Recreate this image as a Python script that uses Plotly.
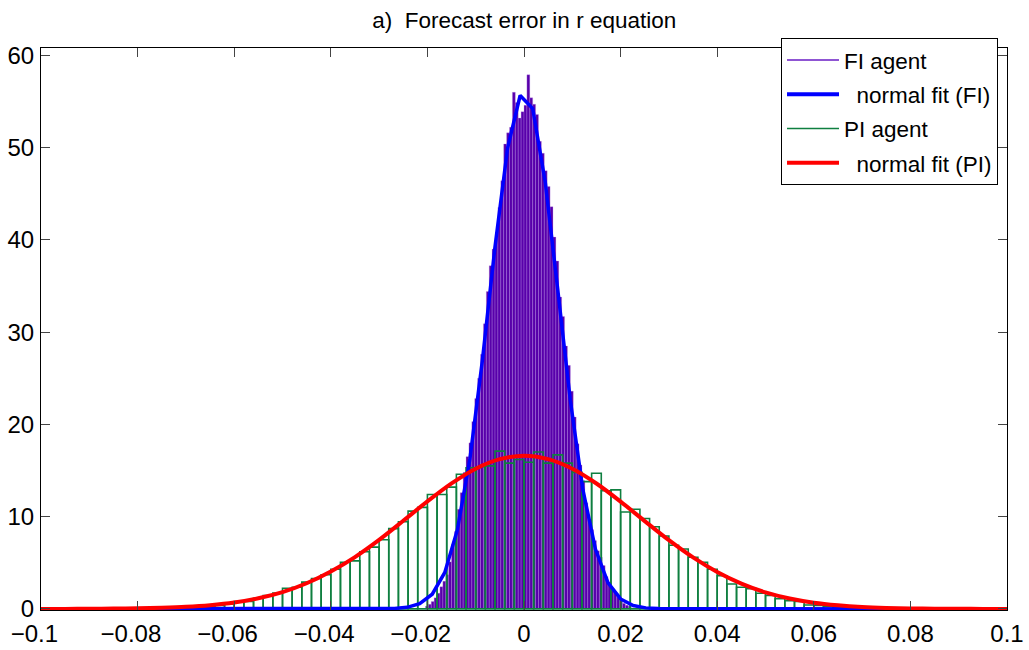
import numpy as np
import plotly.graph_objects as go

# ---------------- data ----------------
# FI agent histogram: bin width 0.0006, first bin's left edge at -0.0204
fi_bin_width = 0.0006
fi_first_left = -0.0204
fi_counts = [0.3, 0.5, 0.8, 1.2, 1.7, 2.4, 3.0, 3.7, 5.1, 7.0,
             8.4, 10.8, 12.6, 14.8, 16.5, 18.0, 20.3, 22.8, 25.0, 27.6,
             30.9, 34.4, 37.2, 39.0, 40.2, 43.5, 46.4, 50.4, 51.6, 52.2,
             56.0, 54.9, 53.2, 53.9, 54.6, 57.9, 55.4, 54.7, 53.6, 50.7,
             49.4, 47.5, 45.8, 43.6, 40.3, 37.7, 33.8, 31.7, 28.5, 26.4,
             23.6, 20.8, 17.9, 15.6, 13.9, 11.5, 9.7, 8.6, 7.4, 6.3,
             5.6, 4.7, 3.5, 2.9, 2.2, 1.8, 1.3, 0.9, 0.6, 0.4,
             0.3, 0.1]

# PI agent histogram: bin width 0.002, first bin's left edge at -0.08
pi_bin_width = 0.002
pi_first_left = -0.080
pi_counts = [0.02, 0.03, 0.04, 0.06, 0.08, 0.12, 0.18, 0.3, 0.36, 0.54,
             0.8, 0.8, 1.15, 1.45, 1.73, 2.24, 2.35, 2.9, 3.3, 3.7,
             4.3, 5.05, 5.2, 6.2, 6.7, 7.5, 8.7, 9.45, 10.6, 11.0,
             12.4, 12.4, 13.2, 14.6, 15.3, 15.4, 15.5, 17.1, 15.8, 16.2,
             15.9, 17.0, 15.8, 16.7, 15.8, 14.8, 13.8, 14.7, 12.8, 12.9,
             10.5, 10.8, 9.8, 8.9, 7.9, 6.9, 6.5, 5.6, 5.05, 4.3,
             3.6, 2.7, 2.35, 2.2, 1.7, 1.45, 1.1, 0.9, 0.8, 0.43,
             0.36, 0.3, 0.2, 0.15, 0.1, 0.07, 0.05, 0.03, 0.02, 0.01]

# normal fit (FI) curve, as drawn (piecewise line)
fi_fit_x = [-0.1, -0.0294, -0.0268, -0.0242, -0.0216, -0.019, -0.0164, -0.0138,
            -0.0112, -0.0086, -0.006, -0.0034, -0.0008, 0.0018, 0.0044, 0.007,
            0.0096, 0.0122, 0.0148, 0.0174, 0.02, 0.0226, 0.0252, 0.0278,
            0.0304, 0.1]
fi_fit_y = [0, 0.01, 0.05, 0.17, 0.56, 1.59, 3.95, 8.56,
            16.25, 27.0, 39.26, 49.96, 55.65, 54.24, 46.26, 34.54,
            22.56, 12.9, 6.46, 2.83, 1.08, 0.36, 0.11, 0.03,
            0.01, 0]

# normal fit (PI) curve
pi_fit_x = [-0.1, -0.095, -0.09, -0.085, -0.08, -0.075, -0.07, -0.065, -0.06,
            -0.055, -0.05, -0.045, -0.04, -0.035, -0.03, -0.025, -0.02,
            -0.015, -0.01, -0.005, 0.0, 0.005, 0.01, 0.015, 0.02, 0.025,
            0.03, 0.035, 0.04, 0.045, 0.05, 0.055, 0.06, 0.065, 0.07,
            0.075, 0.08, 0.085, 0.09, 0.095, 0.1]
pi_fit_y = [0.0, 0.0, 0.01, 0.03, 0.06, 0.12, 0.22, 0.4, 0.69,
            1.15, 1.82, 2.78, 4.05, 5.62, 7.48, 9.55, 11.65,
            13.6, 15.2, 16.23, 16.6, 16.23, 15.19, 13.59, 11.63, 9.52,
            7.45, 5.58, 4.0, 2.74, 1.79, 1.12, 0.67, 0.39, 0.21,
            0.11, 0.055, 0.025, 0.01, 0.0, 0.0]

x_ticks = [-0.1, -0.08, -0.06, -0.04, -0.02, 0, 0.02, 0.04, 0.06, 0.08, 0.1]
x_tick_labels = ["\u22120.1", "\u22120.08", "\u22120.06", "\u22120.04", "\u22120.02",
                 "0", "0.02", "0.04", "0.06", "0.08", "0.1"]
y_ticks = [0, 10, 20, 30, 40, 50, 60]

legend_names = ["FI agent", "\u00a0\u00a0normal fit (FI)", "PI agent", "\u00a0\u00a0normal fit (PI)"]

# ---------------- styling ----------------
PURPLE_FILL = "#5800aa"
PURPLE_LINE = "#6a1cc4"
GREEN = "#0f7f40"
BLUE = "#0000ff"
RED = "#ff0000"
FONT = "Liberation Sans, Arial, sans-serif"

fi_centers = fi_first_left + fi_bin_width * (np.arange(len(fi_counts)) + 0.5)
pi_centers = pi_first_left + pi_bin_width * (np.arange(len(pi_counts)) + 0.5)

# MATLAB centres the digits, letting the minus sign hang left: pad negatives
x_tick_text = [t + "\u00a0\u00a0" if t.startswith("\u2212") else t for t in x_tick_labels]

fig = go.Figure()

# legend-only entries (MATLAB shows line samples)
leg_styles = [(PURPLE_LINE, 1.5), (BLUE, 4), (GREEN, 1.5), (RED, 4)]
for i, (name, (col, w)) in enumerate(zip(legend_names, leg_styles)):
    fig.add_trace(go.Scatter(x=[None], y=[None], mode="lines", name=name,
                             line=dict(color=col, width=w),
                             legendgroup=f"g{i}", showlegend=True))

fig.add_trace(go.Bar(x=fi_centers, y=fi_counts, width=fi_bin_width,
                     marker=dict(color=PURPLE_FILL,
                                 line=dict(color="rgba(190,150,235,0.85)", width=0.35)),
                     showlegend=False, legendgroup="g0"))
fig.add_trace(go.Bar(x=pi_centers, y=pi_counts, width=pi_bin_width,
                     marker=dict(color="rgba(0,0,0,0)",
                                 line=dict(color=GREEN, width=1.6)),
                     showlegend=False, legendgroup="g2"))
fig.add_trace(go.Scatter(x=fi_fit_x, y=fi_fit_y, mode="lines",
                         line=dict(color=BLUE, width=3.5),
                         showlegend=False, legendgroup="g1"))
fig.add_trace(go.Scatter(x=pi_fit_x, y=pi_fit_y, mode="lines",
                         line=dict(color=RED, width=4, shape="spline", smoothing=0.8),
                         showlegend=False, legendgroup="g3"))

axis_common = dict(showline=True, linecolor="black", linewidth=1, mirror="ticks",
                   ticks="inside", ticklen=9, tickcolor="#444", tickwidth=1,
                   showgrid=False, zeroline=False, automargin=False,
                   tickfont=dict(family=FONT, size=24, color="black"))

fig.update_layout(
    width=1029, height=650,
    margin=dict(l=41, r=22, t=48, b=40, autoexpand=False),
    paper_bgcolor="white", plot_bgcolor="white",
    barmode="overlay",
    title=dict(text="a)\u00a0\u00a0Forecast error in r equation",
               x=0.5095, xanchor="center", y=1 - 20 / 650, yanchor="middle",
               font=dict(family=FONT, size=22.5, color="black")),
    xaxis=dict(range=[-0.1, 0.1], tickvals=x_ticks, ticktext=x_tick_text,
               ticklabelstandoff=2, **axis_common),
    yaxis=dict(range=[-0.12, 60.8], tickvals=y_ticks, ticklabelstandoff=1,
               **axis_common),
    legend=dict(x=0.9907, xanchor="right", y=1.0178, yanchor="top",
                bgcolor="white", bordercolor="black", borderwidth=1,
                font=dict(family=FONT, size=22.5, color="black"),
                traceorder="grouped", tracegroupgap=2, itemwidth=52),
    showlegend=True,
)

fig.write_html("out.html",
               config={"displayModeBar": False},
               post_script="document.body.style.margin='0';document.body.style.overflow='hidden';")
